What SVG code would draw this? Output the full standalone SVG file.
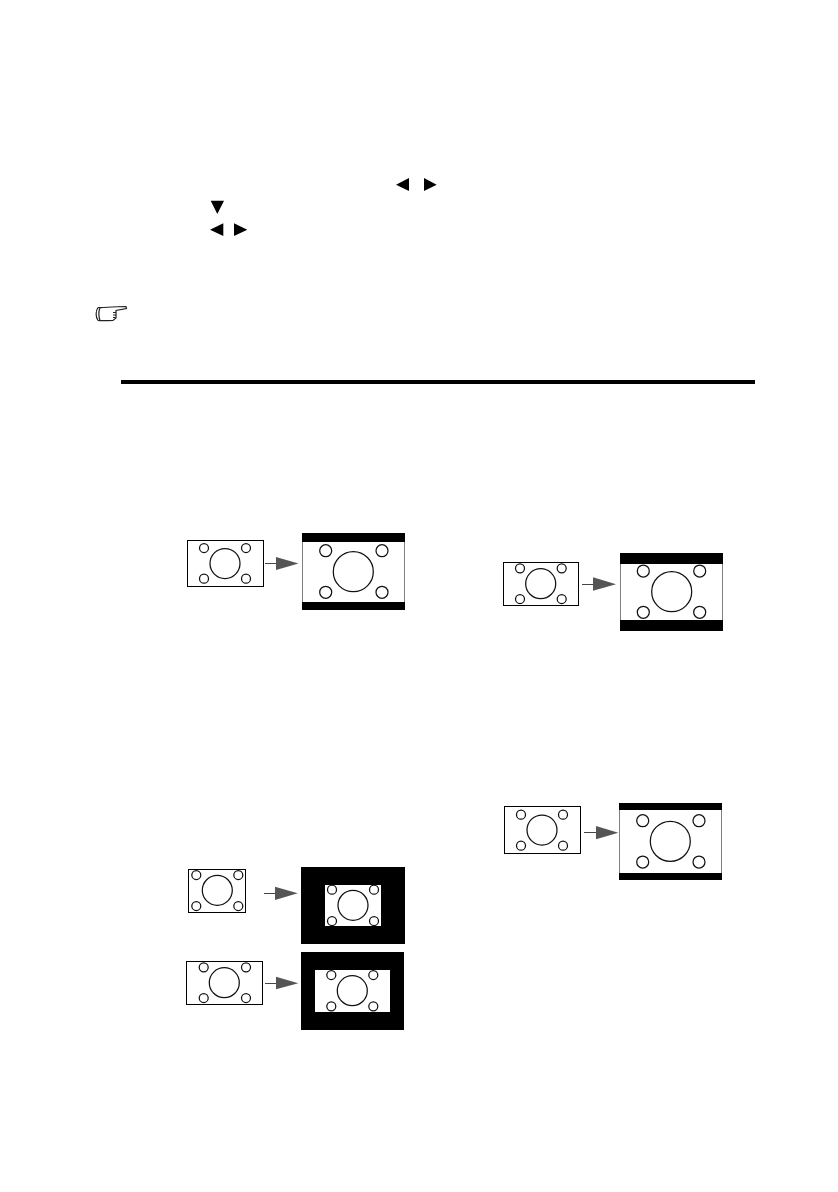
<svg xmlns="http://www.w3.org/2000/svg" width="838" height="1192" viewBox="0 0 838 1192">
<style>
.frame{fill:#fff;stroke:#000;stroke-width:1}
.black{fill:#000}
.white{fill:#fff}
circle{fill:#fff;stroke:#111;stroke-width:1.25}
.line{stroke:#444;stroke-width:1;fill:none}
.head{fill:#555}
.key{fill:#000}
</style>
<rect width="838" height="1192" fill="#fff"/>
<g id="keys">
<polygon class="key" points="396,184.7 409,178 409,191"/>
<polygon class="key" points="424,178 436.7,184.7 424,191"/>
<polygon class="key" points="210.7,200.7 224,200.7 217.3,214"/>
<polygon class="key" points="210,229.7 223.3,223.3 223.3,236"/>
<polygon class="key" points="234,223.3 247.3,229.7 234,236"/>
</g>
<g id="hand" fill="none" stroke="#222" stroke-width="1.2">
<path d="M98 307.5C95.5 311 95.5 317 98 320.5M98 307.5C104 308 110 306.5 126 306.5L126.5 308.5L116 310.5L116 318L113 320.5C108 320.5 103 321 98 320.5"/>
<path d="M100 308C98.5 311 98.5 317 100 320.5"/>
<path d="M113 312.5H116M113 315H116M113 317.5H115.5"/>
</g>
<rect id="rule" x="121" y="380" width="634" height="4" fill="#000"/>
<g id="node1">
<rect class="frame" x="187.5" y="540.5" width="76" height="46"/>
<circle cx="225" cy="563.5" r="15"/><circle cx="204" cy="548" r="4.5"/><circle cx="246" cy="548" r="4.5"/><circle cx="204" cy="578.7" r="4.5"/><circle cx="246" cy="578.7" r="4.5"/>
</g>
<g id="node2">
<rect class="black" x="302" y="533" width="103" height="77"/>
<rect class="white" x="302.5" y="542" width="102" height="60"/>
<circle cx="353.3" cy="571.7" r="20"/><circle cx="325.7" cy="550.7" r="6"/><circle cx="382" cy="550.7" r="6"/><circle cx="325.7" cy="592.3" r="6"/><circle cx="382" cy="592.3" r="6"/>
</g>
<g id="node3">
<rect class="frame" x="503.5" y="562.5" width="75" height="43"/>
<circle cx="540.7" cy="583.7" r="15"/><circle cx="520" cy="568.3" r="4.5"/><circle cx="561.7" cy="568.3" r="4.5"/><circle cx="520" cy="599" r="4.5"/><circle cx="561.7" cy="599" r="4.5"/>
</g>
<g id="node4">
<rect class="black" x="620" y="553" width="103" height="78"/>
<rect class="white" x="620.5" y="564" width="102" height="56"/>
<circle cx="671.7" cy="591.7" r="20"/><circle cx="643.3" cy="571" r="6"/><circle cx="699.7" cy="571" r="6"/><circle cx="643.3" cy="612.3" r="6"/><circle cx="699.7" cy="612.3" r="6"/>
</g>
<g id="node5">
<rect class="frame" x="504.5" y="806.5" width="76" height="47"/>
<circle cx="542" cy="830" r="15"/><circle cx="521" cy="814.7" r="4.5"/><circle cx="563" cy="814.7" r="4.5"/><circle cx="521" cy="845.7" r="4.5"/><circle cx="563" cy="845.7" r="4.5"/>
</g>
<g id="node6">
<rect class="black" x="619" y="803" width="103" height="77"/>
<rect class="white" x="619.5" y="810" width="102" height="63"/>
<circle cx="670.3" cy="841.3" r="20"/><circle cx="642.7" cy="820.7" r="6"/><circle cx="699" cy="820.7" r="6"/><circle cx="642.7" cy="862" r="6"/><circle cx="699" cy="862" r="6"/>
</g>
<g id="node7">
<rect class="frame" x="188.5" y="869.5" width="57" height="43"/>
<circle cx="217.3" cy="890.3" r="15"/><circle cx="196.3" cy="875" r="4.5"/><circle cx="238.3" cy="875" r="4.5"/><circle cx="196.3" cy="906" r="4.5"/><circle cx="238.3" cy="906" r="4.5"/>
</g>
<g id="node8">
<rect class="black" x="301" y="867" width="104" height="77"/>
<rect class="white" x="325" y="885" width="56" height="41"/>
<circle cx="353" cy="905.3" r="15"/><circle cx="332" cy="889.7" r="4.5"/><circle cx="374" cy="889.7" r="4.5"/><circle cx="332" cy="921" r="4.5"/><circle cx="374" cy="921" r="4.5"/>
</g>
<g id="node9">
<rect class="frame" x="186.5" y="961.5" width="76" height="43"/>
<circle cx="224.3" cy="982.7" r="15"/><circle cx="203.7" cy="967.3" r="4.5"/><circle cx="246" cy="967.3" r="4.5"/><circle cx="203.7" cy="998" r="4.5"/><circle cx="246" cy="998" r="4.5"/>
</g>
<g id="node10">
<rect class="black" x="301" y="952" width="103" height="78"/>
<rect class="white" x="315" y="970" width="75" height="42"/>
<circle cx="352.3" cy="990.7" r="15"/><circle cx="331.3" cy="975" r="4.5"/><circle cx="373.3" cy="975" r="4.5"/><circle cx="331.3" cy="1006.3" r="4.5"/><circle cx="373.3" cy="1006.3" r="4.5"/>
</g>
<g id="connectors">
<path class="line" d="M265 563.5H277"/><polygon class="head" points="276,557 298.5,563.5 276,570"/>
<path class="line" d="M582 584.5H594"/><polygon class="head" points="593,577.3 616,584.3 593,590.7"/>
<path class="line" d="M584 832.5H597"/><polygon class="head" points="596,826 618.3,832.7 596,839.3"/>
<path class="line" d="M264 893.5H276"/><polygon class="head" points="275,886.7 297.7,893.3 275,900"/>
<path class="line" d="M265 983.5H277"/><polygon class="head" points="276,976.7 298.3,983.3 276,989.3"/>
</g>
</svg>
